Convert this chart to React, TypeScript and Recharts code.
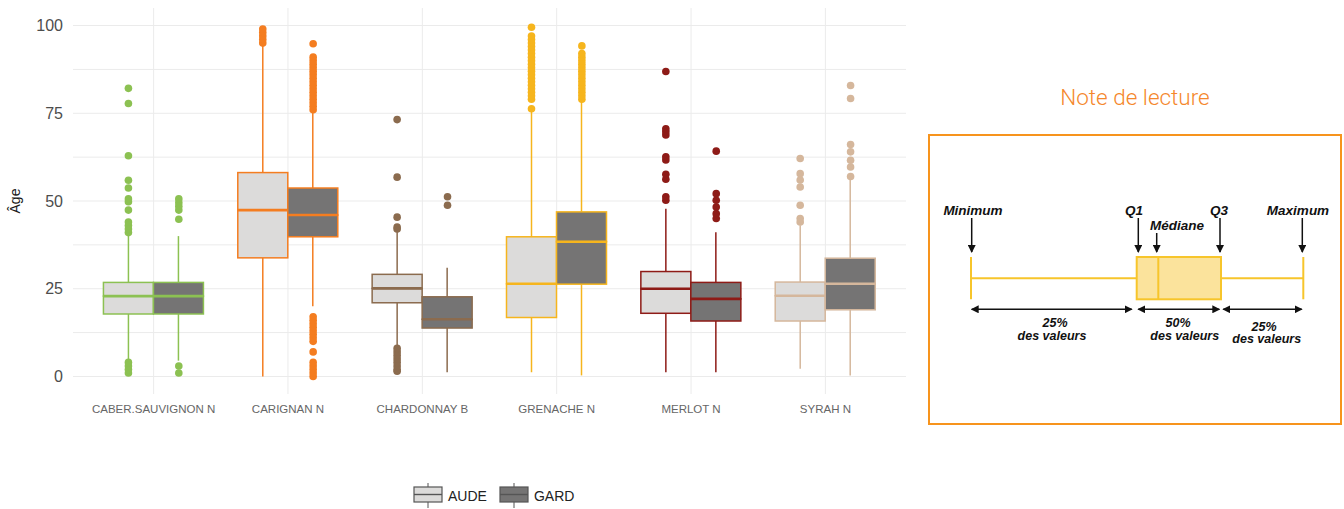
import { ComposedChart, Bar, Scatter, XAxis, YAxis, CartesianGrid } from 'recharts';

const CATEGORIES = ['CABER.SAUVIGNON N', 'CARIGNAN N', 'CHARDONNAY B', 'GRENACHE N', 'MERLOT N', 'SYRAH N'];
const CATEGORY_COLORS = ['#8cc152', '#f47d20', '#8b6b4e', '#f6b51d', '#8e1b17', '#d5b79c'];

const SERIES = ['AUDE', 'GARD'];
const SERIES_FILLS = ['#dcdbda', '#757474'];

// [lower whisker, Q1, median, Q3, upper whisker]
const AUDE_BOXES = [
  [4.3, 17.8, 22.9, 26.8, 40.5],
  [0, 33.8, 47.4, 58.1, 94.5],
  [8.6, 21.0, 25.1, 29.1, 41.3],
  [1.2, 16.8, 26.4, 39.8, 75.5],
  [1.2, 18.0, 25.0, 29.9, 47.8],
  [2.2, 15.8, 23.0, 26.9, 43.1],
];
const GARD_BOXES = [
  [4.5, 17.8, 22.9, 26.8, 40],
  [20, 39.8, 46, 53.7, 75.5],
  [1.2, 13.8, 16.3, 22.7, 31],
  [0.3, 26.3, 38.4, 46.9, 78.5],
  [1.2, 15.8, 22.1, 26.8, 41.1],
  [0.3, 19.0, 26.4, 33.7, 56.8],
];

const AUDE_OUTLIERS = [
  [1, 2, 3, 4, 41, 42, 43, 44, 47.4, 49.8, 50.6, 53.7, 55.9, 62.9, 77.8, 82.1],
  [95, 96, 97, 98, 99],
  [1.5, 2, 3, 4, 5, 6, 7, 8, 42, 42.6, 45.4, 56.8, 73.2],
  [76.3, 79, 80, 81, 82, 83, 84, 85, 86, 87, 88, 89, 90, 91, 92, 93, 94, 95, 96, 97, 99.5],
  [50.2, 51.2, 56.2, 57.6, 61.7, 62.6, 68.8, 69.7, 70.6, 86.9],
  [44, 45, 48.8, 54, 56, 57.8, 62.1],
];
const GARD_OUTLIERS = [
  [1, 3, 44.8, 47.4, 48.5, 49.5, 50.6],
  [0, 1, 2, 3, 4, 7, 10, 11, 12, 13, 14, 15, 16, 17, 76, 77, 78, 79, 80, 81, 82, 83, 84, 85, 86, 87, 88, 89, 90, 91, 94.8],
  [48.8, 51.2],
  [79, 80, 81, 82, 83, 84, 85, 86, 87, 88, 89, 90, 91, 92, 94.2],
  [45, 46.4, 48.3, 50.2, 52.1, 64.2],
  [57, 59.7, 61.6, 64, 66.1, 79.2, 82.9],
];

const Y_TICKS = [0, 25, 50, 75, 100];
const GRID_VALUES = [0, 12.5, 25, 37.5, 50, 62.5, 75, 87.5, 100];
const X_TICKS = [1, 2, 3, 4, 5, 6];
const DODGE = 0.1875;

const FONT = '"Liberation Sans", Arial, sans-serif';

const boxRows = CATEGORIES.map((name, i) => {
  const a = AUDE_BOXES[i];
  const g = GARD_BOXES[i];
  return {
    name,
    pos: i + 1,
    cat: i,
    aBase: a[0], aLow: a[1] - a[0], aBoxLow: a[2] - a[1], aBoxHigh: a[3] - a[2], aHigh: a[4] - a[3],
    gBase: g[0], gLow: g[1] - g[0], gBoxLow: g[2] - g[1], gBoxHigh: g[3] - g[2], gHigh: g[4] - g[3],
  };
});

const toPoints = (lists: number[][], side: number) =>
  lists.flatMap((vals, i) => vals.map((y) => ({ pos: i + 1 + side * DODGE, cat: i, y })));

const audePoints = toPoints(AUDE_OUTLIERS, -1);
const gardPoints = toPoints(GARD_OUTLIERS, 1);

const Whisker = (props: any) => {
  const { x, y, width, height, payload } = props;
  const cx = x + width / 2;
  return <line x1={cx} x2={cx} y1={y} y2={y + height} stroke={CATEGORY_COLORS[payload.cat]} strokeWidth={1.5} />;
};

const makeBox = (fill: string, withMedian: boolean) => (props: any) => {
  const { x, y, width, height, payload } = props;
  const c = CATEGORY_COLORS[payload.cat];
  return (
    <g>
      <rect x={x} y={y} width={width} height={height} fill={fill} stroke={c} strokeWidth={1.5} />
      {withMedian && <line x1={x} x2={x + width} y1={y + height} y2={y + height} stroke={c} strokeWidth={2.6} />}
    </g>
  );
};

const Outlier = (props: any) => {
  const { cx, cy, payload } = props;
  return <circle cx={cx} cy={cy} r={3.8} fill={CATEGORY_COLORS[payload.cat]} />;
};

const LegendKey = ({ fill }: { fill: string }) => (
  <svg width={30} height={26} style={{ display: 'block' }}>
    <line x1={15} x2={15} y1={0} y2={4} stroke="#555" strokeWidth={1} />
    <line x1={15} x2={15} y1={19} y2={25} stroke="#555" strokeWidth={1} />
    <rect x={1} y={4} width={28} height={15} fill={fill} stroke="#555" strokeWidth={1.2} />
    <line x1={1} x2={29} y1={11.5} y2={11.5} stroke="#555" strokeWidth={1.4} />
  </svg>
);

const NoteDeLecture = () => {
  const txt = { fontFamily: FONT, fontWeight: 700, fontStyle: 'italic', fontSize: 12.5, fill: '#111' } as const;
  const big = { ...txt, fontSize: 13.5 };
  const yellow = '#f7c52b';
  return (
    <svg width={424} height={380} style={{ position: 'absolute', left: 924, top: 60 }}>
      <defs>
        <marker id="ah" markerWidth={8} markerHeight={8} refX={7} refY={4} orient="auto-start-reverse" markerUnits="userSpaceOnUse">
          <path d="M0,0 L8,4 L0,8 z" fill="#111" />
        </marker>
      </defs>
      <g transform="translate(-924,-60)">
        <text x={1135} y={105} textAnchor="middle" fontFamily="Roboto, sans-serif" fontWeight={300} fontSize={22.5} fill="#f5872b">
          Note de lecture
        </text>
        <rect x={929} y={135} width={412} height={289} fill="none" stroke="#f7941d" strokeWidth={2} />

        <text x={973} y={215} textAnchor="middle" {...big}>Minimum</text>
        <text x={1134} y={215} textAnchor="middle" {...big}>Q1</text>
        <text x={1177} y={230} textAnchor="middle" {...big}>Médiane</text>
        <text x={1219} y={215} textAnchor="middle" {...big}>Q3</text>
        <text x={1298} y={215} textAnchor="middle" {...big}>Maximum</text>

        <line x1={971.7} x2={971.7} y1={218} y2={252} stroke="#111" strokeWidth={1.5} markerEnd="url(#ah)" />
        <line x1={1138.3} x2={1138.3} y1={218} y2={252} stroke="#111" strokeWidth={1.5} markerEnd="url(#ah)" />
        <line x1={1156.7} x2={1156.7} y1={233} y2={252} stroke="#111" strokeWidth={1.5} markerEnd="url(#ah)" />
        <line x1={1220} x2={1220} y1={218} y2={252} stroke="#111" strokeWidth={1.5} markerEnd="url(#ah)" />
        <line x1={1302.3} x2={1302.3} y1={218} y2={252} stroke="#111" strokeWidth={1.5} markerEnd="url(#ah)" />

        <line x1={971} x2={971} y1={257} y2={299.3} stroke={yellow} strokeWidth={2} />
        <line x1={971} x2={1136.7} y1={278.3} y2={278.3} stroke={yellow} strokeWidth={2} />
        <rect x={1136.7} y={257} width={84.3} height={42.3} fill="#fbe39c" stroke={yellow} strokeWidth={2} />
        <line x1={1158.3} x2={1158.3} y1={257} y2={299.3} stroke={yellow} strokeWidth={2} />
        <line x1={1221} x2={1303.3} y1={278.3} y2={278.3} stroke={yellow} strokeWidth={2} />
        <line x1={1303.3} x2={1303.3} y1={257} y2={299.3} stroke={yellow} strokeWidth={2} />

        <line x1={971.7} x2={1131.7} y1={309.3} y2={309.3} stroke="#111" strokeWidth={1.5} markerStart="url(#ah)" markerEnd="url(#ah)" />
        <line x1={1138.3} x2={1219.3} y1={309.3} y2={309.3} stroke="#111" strokeWidth={1.5} markerStart="url(#ah)" markerEnd="url(#ah)" />
        <line x1={1223.3} x2={1301.7} y1={309.3} y2={309.3} stroke="#111" strokeWidth={1.5} markerStart="url(#ah)" markerEnd="url(#ah)" />

        <text x={1055} y={327} textAnchor="middle" {...txt}>25%</text>
        <text x={1052} y={340} textAnchor="middle" {...txt}>des valeurs</text>
        <text x={1178} y={327} textAnchor="middle" {...txt}>50%</text>
        <text x={1184.7} y={340} textAnchor="middle" {...txt}>des valeurs</text>
        <text x={1264} y={331} textAnchor="middle" {...txt}>25%</text>
        <text x={1266.7} y={343} textAnchor="middle" {...txt}>des valeurs</text>
      </g>
    </svg>
  );
};

const App = () => {
  return (
    <div style={{ position: 'absolute', left: 0, top: 0, width: 1344, height: 509, background: '#fff', fontFamily: FONT }}>
      <ComposedChart width={915} height={430} data={boxRows} margin={{ top: 8, right: 9, left: 0, bottom: 0 }} barGap={0}>
        <CartesianGrid stroke="#ebebeb" strokeWidth={1} horizontalValues={GRID_VALUES} verticalValues={X_TICKS} />
        <XAxis
          dataKey="pos"
          type="number"
          domain={[0.4, 6.6]}
          ticks={X_TICKS}
          interval={0}
          tickFormatter={(v: number) => CATEGORIES[v - 1]}
          axisLine={false}
          tickLine={false}
          tickSize={0}
          tickMargin={11}
          height={36}
          tick={{ fontSize: 11.5, fill: '#666', fontFamily: FONT }}
        />
        <XAxis xAxisId="pts" dataKey="pos" type="number" domain={[0.4, 6.6]} hide />
        <YAxis
          type="number"
          domain={[-5, 105]}
          ticks={Y_TICKS}
          interval={0}
          width={73}
          axisLine={false}
          tickLine={false}
          tickSize={0}
          tickMargin={10}
          tick={{ fontSize: 16, fill: '#4d4d4d', fontFamily: FONT }}
          label={{ value: 'Âge', angle: -90, position: 'insideLeft', offset: 15, style: { textAnchor: 'middle', fontSize: 14, fill: '#1a1a1a', fontFamily: FONT } }}
        />

        <Bar dataKey="aBase" stackId="aude" fill="none" barSize={50} isAnimationActive={false} />
        <Bar dataKey="aLow" stackId="aude" shape={Whisker} barSize={50} isAnimationActive={false} />
        <Bar dataKey="aBoxLow" stackId="aude" shape={makeBox(SERIES_FILLS[0], false)} barSize={50} isAnimationActive={false} />
        <Bar dataKey="aBoxHigh" stackId="aude" shape={makeBox(SERIES_FILLS[0], true)} barSize={50} isAnimationActive={false} />
        <Bar dataKey="aHigh" stackId="aude" shape={Whisker} barSize={50} isAnimationActive={false} />

        <Bar dataKey="gBase" stackId="gard" fill="none" barSize={50} isAnimationActive={false} />
        <Bar dataKey="gLow" stackId="gard" shape={Whisker} barSize={50} isAnimationActive={false} />
        <Bar dataKey="gBoxLow" stackId="gard" shape={makeBox(SERIES_FILLS[1], false)} barSize={50} isAnimationActive={false} />
        <Bar dataKey="gBoxHigh" stackId="gard" shape={makeBox(SERIES_FILLS[1], true)} barSize={50} isAnimationActive={false} />
        <Bar dataKey="gHigh" stackId="gard" shape={Whisker} barSize={50} isAnimationActive={false} />

        <Scatter xAxisId="pts" data={audePoints} dataKey="y" shape={Outlier} isAnimationActive={false} />
        <Scatter xAxisId="pts" data={gardPoints} dataKey="y" shape={Outlier} isAnimationActive={false} />
      </ComposedChart>

      <div style={{ position: 'absolute', left: 413, top: 483, display: 'flex', alignItems: 'center', fontSize: 14, color: '#222' }}>
        {SERIES.map((s, i) => (
          <div key={s} style={{ display: 'flex', alignItems: 'center', marginRight: 12 }}>
            <LegendKey fill={SERIES_FILLS[i]} />
            <span style={{ marginLeft: 5 }}>{s}</span>
          </div>
        ))}
      </div>

      <NoteDeLecture />
    </div>
  );
};

export default App;
